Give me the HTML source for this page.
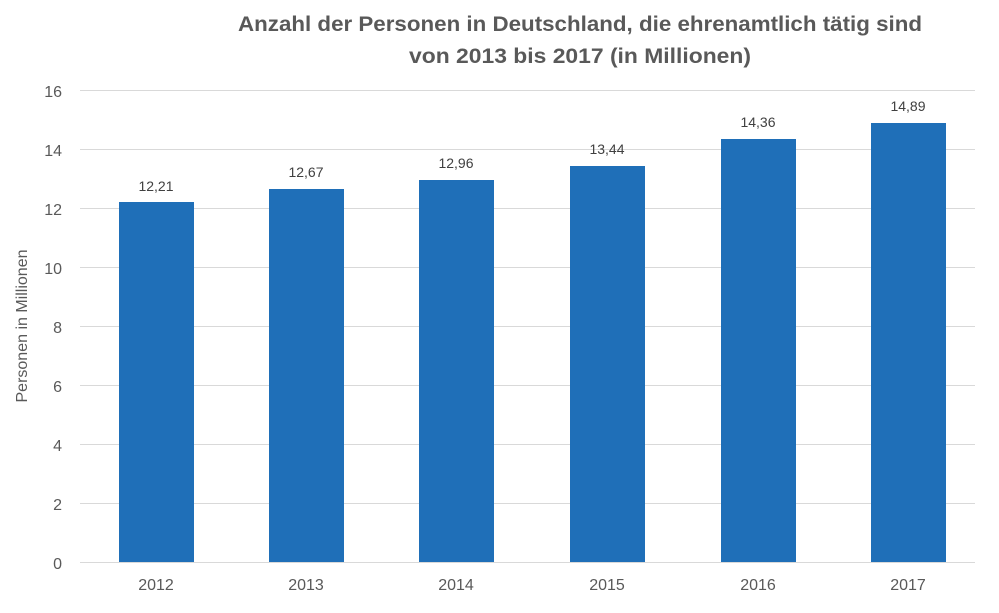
<!DOCTYPE html>
<html><head><meta charset="utf-8"><style>body{margin:0;background:#fff}</style></head><body>
<svg width="999" height="608" xmlns="http://www.w3.org/2000/svg" font-family="'Liberation Sans', sans-serif">
<rect width="999" height="608" fill="#fff"/>
<g fill="#595959" font-weight="bold" font-size="21.5" text-anchor="middle">
<text x="580" y="31" textLength="684" lengthAdjust="spacingAndGlyphs">Anzahl der Personen in Deutschland, die ehrenamtlich tätig sind</text>
<text x="580" y="63" textLength="342" lengthAdjust="spacingAndGlyphs">von 2013 bis 2017 (in Millionen)</text>
</g>
<g stroke="#d9d9d9" stroke-width="1">
<line x1="80" x2="975" y1="90.5" y2="90.5"/><line x1="80" x2="975" y1="149.5" y2="149.5"/>
<line x1="80" x2="975" y1="208.5" y2="208.5"/><line x1="80" x2="975" y1="267.5" y2="267.5"/>
<line x1="80" x2="975" y1="326.5" y2="326.5"/><line x1="80" x2="975" y1="385.5" y2="385.5"/>
<line x1="80" x2="975" y1="444.5" y2="444.5"/><line x1="80" x2="975" y1="503.5" y2="503.5"/>
<line x1="80" x2="975" y1="562.5" y2="562.5"/>
</g>
<g fill="#595959" font-size="16" text-anchor="end">
<text x="62" y="97">16</text><text x="62" y="156">14</text><text x="62" y="215">12</text>
<text x="62" y="274">10</text><text x="62" y="333">8</text><text x="62" y="392">6</text>
<text x="62" y="451">4</text><text x="62" y="510">2</text><text x="62" y="569">0</text>
</g>
<text transform="translate(27,326) rotate(-90)" text-anchor="middle" fill="#595959" font-size="16">Personen in Millionen</text>
<g fill="#1f6fb8">
<rect x="119" y="202" width="75" height="360"/>
<rect x="269" y="189" width="75" height="373"/>
<rect x="419" y="180" width="75" height="382"/>
<rect x="570" y="166" width="75" height="396"/>
<rect x="721" y="139" width="75" height="423"/>
<rect x="871" y="123" width="75" height="439"/>
</g>
<g fill="#404040" font-size="14" text-anchor="middle">
<text x="156" y="191">12,21</text><text x="306" y="177">12,67</text><text x="456" y="168">12,96</text>
<text x="607" y="154">13,44</text><text x="758" y="127">14,36</text><text x="908" y="111">14,89</text>
</g>
<g fill="#595959" font-size="16" text-anchor="middle">
<text x="156" y="590">2012</text><text x="306" y="590">2013</text><text x="456" y="590">2014</text>
<text x="607" y="590">2015</text><text x="758" y="590">2016</text><text x="908" y="590">2017</text>
</g>
</svg>
</body></html>
